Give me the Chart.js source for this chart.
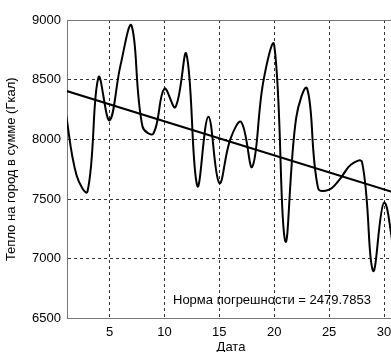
<!DOCTYPE html>
<html><head><meta charset="utf-8">
<script src="https://cdn.jsdelivr.net/npm/chart.js@4.4.1/dist/chart.umd.min.js"></script>
<style>html,body{margin:0;padding:0;overflow:hidden;background:#fff;width:391px;height:352px}canvas{display:block}</style>
</head><body>
<canvas id="c" width="410" height="352"></canvas>
<script>
const days = [1,2,3,4,5,6,7,8,9,10,11,12,13,14,15,16,17,18,19,20,21,22,23,24,25,26,27,28,29,30,31];
const heat = [8230,7700,7565,8520,8160,8620,8955,8110,8050,8425,8270,8715,7610,8190,7635,8000,8145,7770,8480,8790,7150,8180,8425,7590,7580,7670,7790,7810,6900,7470,7000];
const trendDays = [1, 31];
const trendValues = [8408, 7552];
const xTicks = [5,10,15,20,25,30];
const yTicks = [6500,7000,7500,8000,8500,9000];
const xRange = [1.13, 31];
const yRange = [6500, 9000];
const xTitle = 'Дата';
const yTitle = 'Тепло на город в сумме (Гкал)';
const noteText = 'Норма погрешности = 2479.7853';

const FONT = '"Liberation Sans", Arial, sans-serif';
Chart.defaults.font.family = FONT;
Chart.defaults.font.size = 13;
Chart.defaults.color = '#000';

const frame = {
  id: 'frame',
  afterDraw(chart) {
    const {ctx, chartArea: a} = chart;
    ctx.save();
    ctx.strokeStyle = '#777';
    ctx.lineWidth = 1;
    ctx.beginPath();
    ctx.moveTo(a.left, a.top + 0.5);
    ctx.lineTo(a.right, a.top + 0.5);
    ctx.stroke();
    ctx.fillStyle = '#000';
    ctx.font = '13px ' + FONT;
    ctx.textBaseline = 'alphabetic';
    ctx.textAlign = 'left';
    ctx.fillText(noteText, 173, 304);
    ctx.restore();
  }
};

const edge = (lo, hi) => (c) => (c.tick && (c.tick.value === lo || c.tick.value === hi)) ? 'rgba(0,0,0,0)' : '#333';

new Chart(document.getElementById('c'), {
  type: 'line',
  data: {
    datasets: [
      {
        data: days.map((d, i) => ({x: d, y: heat[i]})),
        borderColor: '#000', borderWidth: 2, pointRadius: 0, tension: 0.4, fill: false
      },
      {
        data: trendDays.map((d, i) => ({x: d, y: trendValues[i]})),
        borderColor: '#000', borderWidth: 2, pointRadius: 0, tension: 0, fill: false
      }
    ]
  },
  options: {
    responsive: false,
    animation: false,
    devicePixelRatio: 1,
    layout: {padding: {left: 0, top: 20, right: 15, bottom: 0}},
    plugins: {legend: {display: false}, tooltip: {enabled: false}},
    scales: {
      x: {
        type: 'linear', min: xRange[0], max: xRange[1],
        afterBuildTicks: s => { s.ticks = xTicks.map(v => ({value: v})); },
        afterFit: s => { s.height = 33.5; },
        ticks: {padding: 6, autoSkip: false, maxRotation: 0, font: {size: 13}, callback: v => String(v)},
        grid: {color: '#333', lineWidth: 1, drawTicks: false},
        border: {display: true, color: '#777', width: 1, dash: [3, 3]},
        title: {display: true, text: xTitle, font: {size: 13}, padding: {top: 0, bottom: -3}}
      },
      y: {
        type: 'linear', min: yRange[0], max: yRange[1],
        afterBuildTicks: s => { s.ticks = yTicks.map(v => ({value: v})); },
        afterFit: s => { s.width = 67; },
        ticks: {padding: 6, font: {size: 13}, callback: v => String(v)},
        grid: {color: edge(yRange[0], yRange[1]), lineWidth: 1, drawTicks: false},
        border: {display: true, color: '#777', width: 1, dash: [3, 3]},
        title: {display: true, text: yTitle, font: {size: 13}, padding: {top: 4, bottom: 0}}
      }
    }
  },
  plugins: [frame]
});
</script>
</body></html>
